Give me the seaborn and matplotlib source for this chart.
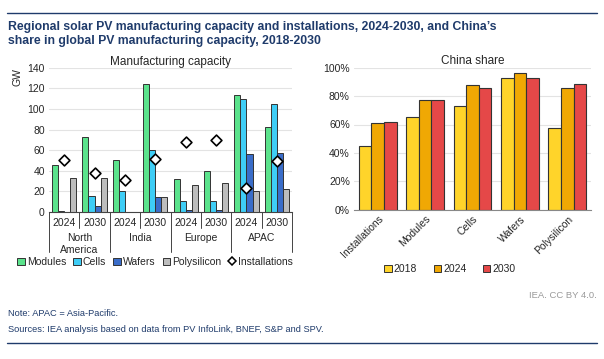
import pandas as pd
import matplotlib.pyplot as plt
import seaborn as sns
from matplotlib.lines import Line2D
from matplotlib.patches import Patch

# =====================================================
# DATA
# =====================================================

regions = ["North\nAmerica", "India", "Europe", "APAC"]
years = ["2024", "2030"]

modules = [45.5, 73, 50, 124.5, 32.5, 39.5, 113.5, 82.5]
cells = [1, 15.5, 20, 60, 10.5, 10.5, 109.5, 104.5]
wafers = [0.4, 5.5, 0, 15, 1.5, 2, 56, 57.5]
polysilicon = [33, 33, 0, 15, 26.5, 28.5, 20.5, 22]
installations = [50.5, 37.5, 31.5, 51.5, 68, 70, 23, 49.5]

share_cats = ["Installations", "Modules", "Cells", "Wafers", "Polysilicon"]
share_2018 = [45, 65.5, 73, 92.5, 57.5]
share_2024 = [61, 77.5, 87.5, 96.5, 86]
share_2030 = [61.5, 77, 85.5, 93, 88.5]

# =====================================================
# STYLE
# =====================================================

NAVY = "#1F3B6B"
EDGE = "#333333"
cap_colors = {
    "Modules": "#5BE38C",
    "Cells": "#3ECDF6",
    "Wafers": "#3A6DC9",
    "Polysilicon": "#BDBDBD",
}
share_colors = {"2018": "#FFD42A", "2024": "#F0A804", "2030": "#E54848"}

sns.set_style("white")
plt.rcParams["font.family"] = ["Liberation Sans", "DejaVu Sans"]
plt.rcParams["font.size"] = 7.5

# =====================================================
# LONG TABLES
# =====================================================

groups = [f"{r} {y}" for r in regions for y in years]

cap_rows = []
for name, vals in [("Modules", modules), ("Cells", cells),
                   ("Wafers", wafers), ("Polysilicon", polysilicon)]:
    for g, v in zip(groups, vals):
        cap_rows.append({"group": g, "type": name, "gw": v})
cap_df = pd.DataFrame(cap_rows)

inst_df = pd.DataFrame({"group": groups, "gw": installations})

share_rows = []
for yr, vals in [("2018", share_2018), ("2024", share_2024), ("2030", share_2030)]:
    for c, v in zip(share_cats, vals):
        share_rows.append({"cat": c, "year": yr, "share": v})
share_df = pd.DataFrame(share_rows)

# =====================================================
# FIGURE
# =====================================================

W, H = 604, 359
fig = plt.figure(figsize=(W / 100, H / 100), dpi=100)


def box(x0, y0, x1, y1):
    return [x0 / W, 1 - y1 / H, (x1 - x0) / W, (y1 - y0) / H]


ax1 = fig.add_axes(box(49, 67.7, 292, 212))
ax2 = fig.add_axes(box(354, 67.7, 591, 209.7))

# ---------------- left: manufacturing capacity ----------------

sns.barplot(
    data=cap_df, x="group", y="gw", hue="type",
    palette=cap_colors, order=groups, width=0.8, saturation=1,
    edgecolor=EDGE, linewidth=0.7, legend=False, ax=ax1, zorder=2
)
sns.stripplot(
    data=inst_df, x="group", y="gw", order=groups,
    jitter=False, marker="D", size=5.5, color="white",
    edgecolor="black", linewidth=1.2, ax=ax1, zorder=4
)

ax1.set_ylim(0, 140)
ax1.set_yticks(range(0, 141, 20))
ax1.set_xlim(-0.5, len(groups) - 0.5)
ax1.grid(axis="y", color="#E3E3E3", linewidth=0.8, zorder=0)
ax1.set_axisbelow(True)
ax1.set_xlabel("")
ax1.set_ylabel("")
for side in ["left", "right", "top"]:
    ax1.spines[side].set_visible(False)
ax1.spines["bottom"].set_color("#444444")
ax1.spines["bottom"].set_linewidth(0.8)
ax1.tick_params(axis="both", length=0, labelsize=7.5, pad=3)
ax1.set_xticks(range(len(groups)))
ax1.set_xticklabels(years * len(regions), fontsize=7.5)
ax1.tick_params(axis="x", pad=4)
ax1.set_title("Manufacturing capacity", fontsize=8.5, pad=2)
ax1.text(-0.13, 1.0, "GW", transform=ax1.transAxes, rotation=90,
         ha="center", va="top", fontsize=7.5)

trans = ax1.get_xaxis_transform()
for i in range(len(groups) + 1):
    x = i - 0.5
    y_end = -0.28 if i % 2 == 0 else -0.11
    ax1.plot([x, x], [0, y_end], transform=trans, color="#444444",
             linewidth=0.7, clip_on=False)
for j, r in enumerate(regions):
    ax1.text(2 * j + 0.5, -0.145, r, transform=trans, ha="center",
             va="top", fontsize=7.5, linespacing=1.2)

handles = [Patch(facecolor=c, edgecolor=EDGE, linewidth=0.7, label=k)
           for k, c in cap_colors.items()]
handles.append(Line2D([], [], marker="D", linestyle="none", markersize=4,
                      markerfacecolor="white", markeredgecolor="black",
                      markeredgewidth=1.1, label="Installations"))
fig.legend(handles=handles, loc="center", bbox_to_anchor=(155 / W, 1 - 262 / H),
           ncol=5, frameon=False, fontsize=7.5, handlelength=0.7,
           handleheight=0.7, handletextpad=0.2, columnspacing=0.7)

# ---------------- right: China share ----------------

sns.barplot(
    data=share_df, x="cat", y="share", hue="year",
    palette=share_colors, order=share_cats, width=0.8, saturation=1,
    edgecolor=EDGE, linewidth=0.8, ax=ax2, zorder=2
)
ax2.set_ylim(0, 100)
ax2.set_yticks(range(0, 101, 20))
ax2.set_yticklabels([f"{v}%" for v in range(0, 101, 20)])
ax2.grid(axis="y", color="#E3E3E3", linewidth=0.8, zorder=0)
ax2.set_axisbelow(True)
ax2.set_xlabel("")
ax2.set_ylabel("")
for side in ["left", "right", "top"]:
    ax2.spines[side].set_visible(False)
ax2.spines["bottom"].set_color("#888888")
ax2.spines["bottom"].set_linewidth(0.8)
ax2.tick_params(axis="both", length=0, labelsize=7.5, pad=3)
plt.setp(ax2.get_xticklabels(), rotation=45, ha="right",
         rotation_mode="anchor")
ax2.set_title("China share", fontsize=8.5, pad=3)

leg_handles = [Patch(facecolor=c, edgecolor=EDGE, linewidth=0.7, label=k)
               for k, c in share_colors.items()]
ax2.legend(handles=leg_handles, loc="center",
           bbox_to_anchor=(450 / W, 1 - 269 / H),
           bbox_transform=fig.transFigure, ncol=3, frameon=False,
           fontsize=7.5, handlelength=0.7, handleheight=0.7,
           handletextpad=0.2, columnspacing=1.6)

# ---------------- titles, notes, rules ----------------

fig.add_artist(Line2D([7 / W, 597 / W], [1 - 13 / H, 1 - 13 / H],
                      color=NAVY, linewidth=1.0))
fig.add_artist(Line2D([7 / W, 597 / W], [1 - 343 / H, 1 - 343 / H],
                      color=NAVY, linewidth=1.0))

fig.text(8 / W, 1 - 21 / H,
         "Regional solar PV manufacturing capacity and installations, 2024-2030, and China’s\n"
         "share in global PV manufacturing capacity, 2018-2030",
         ha="left", va="top", fontsize=8.8, fontweight="bold", color=NAVY,
         linespacing=1.25)

fig.text(597 / W, 1 - 295 / H, "IEA. CC BY 4.0.", ha="right", va="center",
         fontsize=6.8, color="#9A9A9A")
fig.text(8 / W, 1 - 313 / H, "Note: APAC = Asia-Pacific.", ha="left",
         va="center", fontsize=6.7, color=NAVY)
fig.text(8 / W, 1 - 330 / H,
         "Sources: IEA analysis based on data from PV InfoLink, BNEF, S&P and SPV.",
         ha="left", va="center", fontsize=6.7, color=NAVY)

fig.savefig("out.png", dpi=100)
